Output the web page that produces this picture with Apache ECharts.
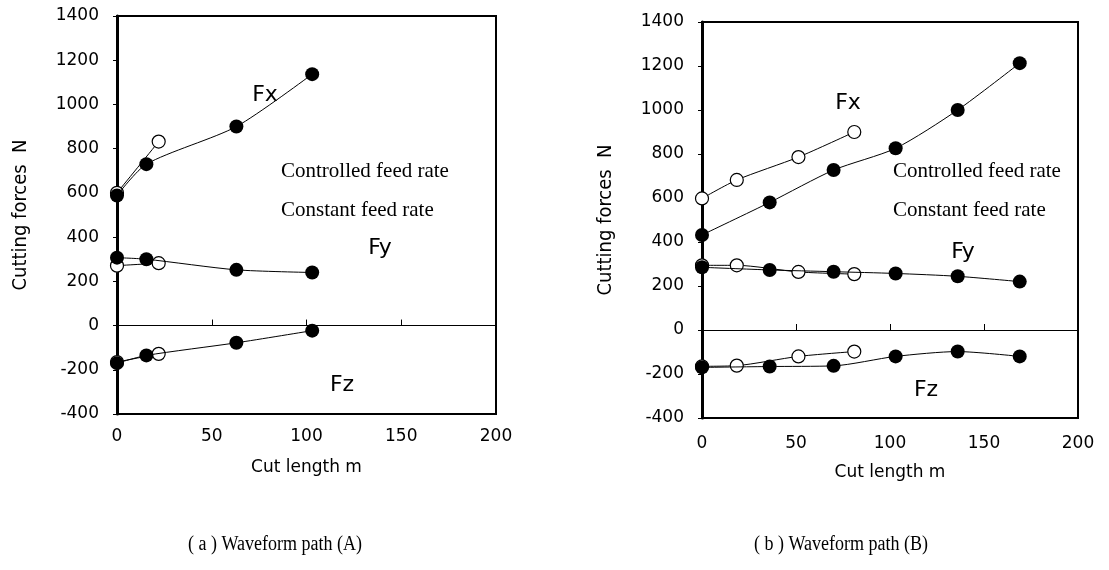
<!DOCTYPE html>
<html>
<head>
<meta charset="utf-8">
<script src="https://cdn.jsdelivr.net/npm/echarts@6/dist/echarts.min.js"></script>
<style>
html,body{margin:0;padding:0;background:#fff;}
#chart{width:1109px;height:570px;}
</style>
</head>
<body>
<div id="chart"></div>
<script>
// ---- Data: (a) Waveform path (A) ----
var aCtrlX   = [0, 22];
var aCtrlFx  = [600, 832];
var aCtrlFy  = [271, 282];
var aCtrlFz  = [-165, -128];
var aConstX  = [0, 15.5, 63, 103];
var aConstFx = [588, 730, 900, 1137];
var aConstFy = [307, 300, 252, 240];
var aConstFz = [-170, -135, -78, -23];

// ---- Data: (b) Waveform path (B) ----
var bCtrlX   = [0, 18.5, 51.3, 81];
var bCtrlFx  = [598, 682, 786, 900];
var bCtrlFy  = [294, 294, 264, 254];
var bCtrlFz  = [-165, -162, -120, -98];
var bConstX  = [0, 36, 70, 103, 136, 169];
var bConstFx = [432, 580, 727, 826, 1000, 1213];
var bConstFy = [285, 273, 265, 257, 244, 220];
var bConstFz = [-170, -166, -163, -120, -98, -120];

var xTicks = [0, 50, 100, 150, 200];
var yTicks = [-400, -200, 0, 200, 400, 600, 800, 1000, 1200, 1400];
var xName = 'Cut length m';
var yName = 'Cutting forces  N';
var legendLabels = ['Controlled feed rate', 'Constant feed rate'];
var captions = ['( a ) Waveform path (A)', '( b ) Waveform path (B)'];
var forceNames = ['Fx', 'Fy', 'Fz'];

function pairs(xs, ys) { return xs.map(function (x, i) { return [x, ys[i]]; }); }

var SANS = 'DejaVu Sans';
var SERIF = 'Liberation Serif';
var NARROW = '"Liberation Sans Narrow", "DejaVu Sans Condensed", sans-serif';

function plain(v) { return String(v); }

function mkSeries(name, xs, ys, open, xi, yi) {
  return {
    name: name, type: 'line', xAxisIndex: xi, yAxisIndex: yi,
    data: pairs(xs, ys), smooth: 0.25, symbol: 'circle',
    symbolSize: open ? 13 : 14, showSymbol: true,
    lineStyle: { color: '#000', width: 1 },
    itemStyle: open ? { color: '#fff', borderColor: '#000', borderWidth: 1.2 }
                    : { color: '#000', borderColor: '#000', borderWidth: 0 },
    z: open ? 2 : 3, animation: false
  };
}

function mkAxes(gi, labelMargin, nameGap) {
  var xs = [
    { gridIndex: gi, type: 'value', min: xTicks[0], max: xTicks[xTicks.length - 1], interval: 50,
      position: 'bottom', axisLine: { show: false, onZero: false }, axisTick: { show: false },
      splitLine: { show: false },
      axisLabel: { color: '#000', fontFamily: SANS, fontSize: 17, margin: labelMargin, formatter: plain },
      name: xName, nameLocation: 'middle', nameGap: nameGap,
      nameTextStyle: { color: '#000', fontFamily: SANS, fontSize: 17 } },
    { gridIndex: gi, type: 'value', min: xTicks[0], max: xTicks[xTicks.length - 1], interval: 50,
      position: 'bottom', axisLine: { show: true, onZero: true, lineStyle: { color: '#000', width: 1 } },
      axisTick: { show: true, inside: true, length: 6, lineStyle: { color: '#000', width: 1 } },
      axisLabel: { show: false }, splitLine: { show: false } }
  ];
  var y = { gridIndex: gi, type: 'value', min: yTicks[0], max: yTicks[yTicks.length - 1], interval: 200,
    axisLine: { show: true, onZero: false, lineStyle: { color: '#000', width: 3 } },
    axisTick: { show: true, inside: false, length: 4, lineStyle: { color: '#000', width: 1 } },
    splitLine: { show: false },
    axisLabel: { color: '#000', fontFamily: SANS, fontSize: 17, margin: 18, formatter: plain },
    name: yName, nameLocation: 'middle', nameGap: 86, nameRotate: 90,
    nameTextStyle: { color: '#000', fontFamily: NARROW, fontSize: 20 } };
  return { x: xs, y: y };
}

var A0 = mkAxes(0, 14, 45);
var A1 = mkAxes(1, 17, 46);

var series = [
  mkSeries('Fx ctrl A', aCtrlX, aCtrlFx, true, 0, 0),
  mkSeries('Fy ctrl A', aCtrlX, aCtrlFy, true, 0, 0),
  mkSeries('Fz ctrl A', aCtrlX, aCtrlFz, true, 0, 0),
  mkSeries('Fx const A', aConstX, aConstFx, false, 0, 0),
  mkSeries('Fy const A', aConstX, aConstFy, false, 0, 0),
  mkSeries('Fz const A', aConstX, aConstFz, false, 0, 0),
  mkSeries('Fx ctrl B', bCtrlX, bCtrlFx, true, 2, 1),
  mkSeries('Fy ctrl B', bCtrlX, bCtrlFy, true, 2, 1),
  mkSeries('Fz ctrl B', bCtrlX, bCtrlFz, true, 2, 1),
  mkSeries('Fx const B', bConstX, bConstFx, false, 2, 1),
  mkSeries('Fy const B', bConstX, bConstFy, false, 2, 1),
  mkSeries('Fz const B', bConstX, bConstFz, false, 2, 1)
];

function txt(s, x, y, font, size, align, sx) {
  return { type: 'text', x: x, y: y, scaleX: sx || 1, z: 10,
    style: { text: s, fill: '#000', font: size + 'px ' + font, textAlign: align || 'left', textVerticalAlign: 'middle' } };
}

var graphics = [
  txt(forceNames[0], 265, 95, SANS, 22, 'center'),
  txt(forceNames[1], 380, 248, SANS, 22, 'center'),
  txt(forceNames[2], 342, 385, SANS, 22, 'center'),
  txt(legendLabels[0], 281, 171, SERIF, 21, 'left'),
  txt(legendLabels[1], 281, 210, SERIF, 21, 'left'),
  txt(forceNames[0], 848, 103, SANS, 22, 'center'),
  txt(forceNames[1], 963, 252, SANS, 22, 'center'),
  txt(forceNames[2], 926, 390, SANS, 22, 'center'),
  txt(legendLabels[0], 893, 171, SERIF, 21, 'left'),
  txt(legendLabels[1], 893, 210, SERIF, 21, 'left'),
  { type: 'text', x: 275, y: 545, scaleX: 0.9, z: 10,
    style: { text: captions[0], fill: '#000', font: '20px ' + SERIF, textAlign: 'center', textVerticalAlign: 'middle' } },
  { type: 'text', x: 841, y: 545, scaleX: 0.9, z: 10,
    style: { text: captions[1], fill: '#000', font: '20px ' + SERIF, textAlign: 'center', textVerticalAlign: 'middle' } }
];

var chart = echarts.init(document.getElementById('chart'), null, { renderer: 'canvas' });
chart.setOption({
  backgroundColor: '#fff',
  animation: false,
  grid: [
    { left: 117, top: 16, width: 379, height: 398, show: true, borderColor: '#000', borderWidth: 2, backgroundColor: 'transparent' },
    { left: 702, top: 22, width: 376, height: 396, show: true, borderColor: '#000', borderWidth: 2, backgroundColor: 'transparent' }
  ],
  xAxis: A0.x.concat(A1.x.map(function (a) { a.gridIndex = 1; return a; })),
  yAxis: [A0.y, Object.assign({}, A1.y, { gridIndex: 1 })],
  series: series,
  graphic: graphics
});
</script>
</body>
</html>
